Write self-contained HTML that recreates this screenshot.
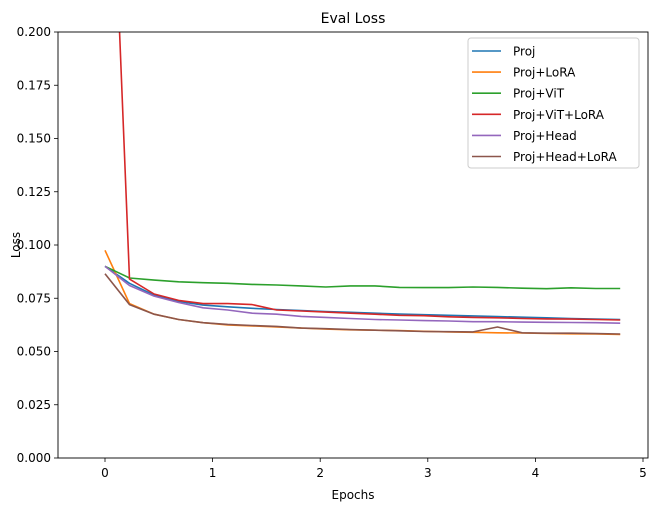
<!DOCTYPE html>
<html><head><meta charset="utf-8"><style>
body{margin:0;background:#fff;}
svg text{font-family:"DejaVu Sans","Liberation Sans",sans-serif;}
</style></head><body>
<svg id="chart" width="658" height="511" viewBox="0 0 658 511">
<defs><clipPath id="clip"><rect x="58" y="32" width="590" height="426"/></clipPath></defs>
<rect x="0" y="0" width="658" height="511" fill="#fff"/>
<g id="lines" clip-path="url(#clip)"></g>
<rect x="58" y="32" width="590" height="426" fill="none" stroke="#000" stroke-width="0.9"/>
<g id="axes"></g>
<text x="353" y="23" font-size="14" text-anchor="middle">Eval Loss</text>
<text x="353" y="499" font-size="12" text-anchor="middle">Epochs</text>
<text x="20" y="245" font-size="12" text-anchor="middle" transform="rotate(-90 20 245)">Loss</text>
<g id="legend"></g>
</svg>
<script>
const seriesNames=["Proj","Proj+LoRA","Proj+ViT","Proj+ViT+LoRA","Proj+Head","Proj+Head+LoRA"];
const colors=["#1f77b4","#ff7f0e","#2ca02c","#d62728","#9467bd","#8c564b"];
const xTicks=[0,1,2,3,4,5];
const yTicks=[0,0.025,0.05,0.075,0.1,0.125,0.15,0.175,0.2];
const yTickLabels=["0.000","0.025","0.050","0.075","0.100","0.125","0.150","0.175","0.200"];
const epochStep=0.228;
const proj=[0.090,0.082,0.0765,0.0735,0.0718,0.071,0.0703,0.0697,0.0692,0.0688,0.0684,0.068,0.0676,0.0673,0.067,0.0667,0.0664,0.0661,0.0658,0.0655,0.0652,0.065];
const projLora=[0.0975,0.0725,0.0675,0.065,0.0635,0.0625,0.062,0.0615,0.061,0.0605,0.0602,0.06,0.0598,0.0595,0.0592,0.059,0.0588,0.0587,0.0585,0.0583,0.0582,0.058];
const projVit=[0.090,0.0845,0.0835,0.0827,0.0823,0.082,0.0815,0.0812,0.0808,0.0803,0.0808,0.0808,0.0801,0.08,0.08,0.0803,0.0801,0.0797,0.0795,0.0799,0.0796,0.0796];
const projVitLora=[0.37,0.084,0.077,0.074,0.0725,0.0725,0.072,0.0695,0.069,0.0685,0.068,0.0675,0.067,0.0668,0.0663,0.066,0.0658,0.0655,0.0653,0.0652,0.065,0.0648];
const projHead=[0.090,0.081,0.076,0.073,0.0705,0.0695,0.068,0.0675,0.0665,0.066,0.0655,0.065,0.0648,0.0645,0.0643,0.064,0.064,0.0638,0.0637,0.0636,0.0635,0.0633];
const projHeadLora=[0.0865,0.072,0.0675,0.065,0.0635,0.0627,0.0622,0.0618,0.061,0.0607,0.0603,0.06,0.0597,0.0594,0.0593,0.0592,0.0615,0.0588,0.0586,0.0586,0.0584,0.0582];
const allSeries=[proj,projLora,projVit,projVitLora,projHead,projHeadLora];
const NS="http://www.w3.org/2000/svg";
function xs(v){return 105+v*107.6;}
function ys(v){return 458-v*2130;}
function mk(t,a,p){const e=document.createElementNS(NS,t);for(const k in a)e.setAttribute(k,a[k]);p.appendChild(e);return e;}
const axes=document.getElementById('axes');
xTicks.forEach(t=>{
  const l=mk('line',{x1:xs(t),x2:xs(t),y1:458,y2:462,stroke:'#000','stroke-width':0.8},axes);
  
  
  const tx=mk('text',{x:xs(t),y:477,'font-size':12,'text-anchor':'middle'},axes);tx.textContent=t;
  
  
});
yTicks.forEach((t,i)=>{
  const l=mk('line',{x1:54,x2:58,y1:ys(t),y2:ys(t),stroke:'#000','stroke-width':0.8},axes);
  
  
  const tx=mk('text',{x:51,y:ys(t)+4,'font-size':12,'text-anchor':'end'},axes);tx.textContent=yTickLabels[i];
  
  
});
const lines=document.getElementById('lines');
allSeries.forEach((s,i)=>{
  const pts=s.map((v,j)=>xs(j*epochStep).toFixed(1)+','+ys(v).toFixed(1)).join(' ');
  const p=mk('polyline',{points:pts,fill:'none',stroke:colors[i],'stroke-width':1.6,'stroke-linejoin':'round'},lines);
  
  
});
const lg=document.getElementById('legend');
const box=mk('rect',{x:468,y:38,width:171,height:130,rx:3,fill:'#fff','fill-opacity':0.8,stroke:'#ccc'},lg);


seriesNames.forEach((n,i)=>{
  const y=51+i*21.1;
  const l=mk('line',{x1:472,x2:501,y1:y,y2:y,stroke:colors[i],'stroke-width':1.6},lg);
  
  
  const t=mk('text',{x:513,y:y+4.5,'font-size':12},lg);t.textContent=n;
  
  
});
</script>
</body></html>
